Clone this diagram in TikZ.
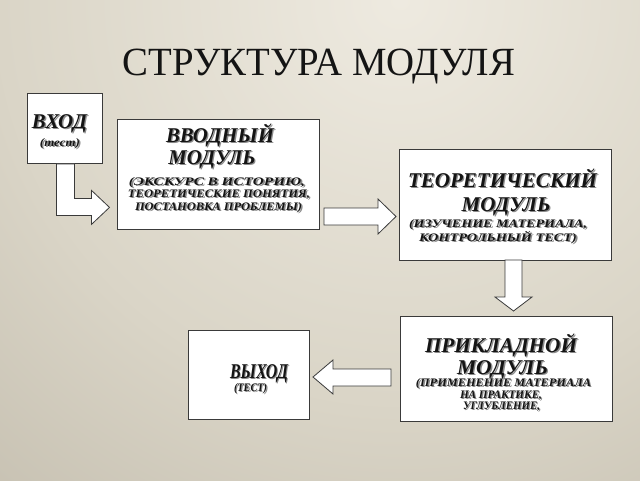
\documentclass[tikz,border=0pt]{standalone}
\usepackage{fontspec}
\setmainfont{Liberation Serif}
\usepackage{graphicx}
\definecolor{bgA}{HTML}{EEEAE0}
\definecolor{bgB}{HTML}{DAD5C7}
\definecolor{bgC}{HTML}{C6C0B1}
\definecolor{bgD}{HTML}{B0AA9A}
\definecolor{bgE}{HTML}{9F9989}
\definecolor{bgF}{HTML}{928C7C}
\definecolor{boxborder}{HTML}{3A3A3A}
\definecolor{txtc}{HTML}{141414}
\definecolor{shadowc}{HTML}{8A8A8A}
\pgfdeclareradialshading{bgshade}{\pgfpoint{0bp}{0bp}}{color(0bp)=(bgA); color(14.3bp)=(bgB); color(23.6bp)=(bgC); color(32.1bp)=(bgD); color(40bp)=(bgE); color(46.4bp)=(bgF); color(50bp)=(bgF)}
\newcommand\shd[1]{\leavevmode\rlap{\smash{\kern1.3pt\raisebox{-1.3pt}{\textcolor{shadowc}{#1}}}}#1}
\newcommand\fitline[2]{\resizebox{#1pt}{\height}{\shd{#2}}}
\tikzset{
  box/.style={draw=boxborder, line width=0.8pt, fill=white, inner sep=0pt},
  blockarrow/.style={draw=boxborder, line width=0.8pt, fill=white, line join=miter},
  lbl/.style={anchor=base, inner sep=0pt, text=txtc},
  hd/.style={lbl, font=\bfseries\itshape\fontsize{21}{23}\selectfont},
  sb/.style={lbl, font=\bfseries\itshape\fontsize{11.5}{12.5}\selectfont},
  ttl/.style={anchor=base, inner sep=0pt, text=txtc, font=\fontsize{40}{44}\selectfont}
}
\begin{document}
\begin{tikzpicture}[x=1pt,y=-1pt]
\useasboundingbox (0,0) rectangle (640,480);
\begin{scope}
\clip (0,0) rectangle (640,480);
\shade[shading=bgshade] (-300,-700) rectangle (1100,700);
\end{scope}
% title
\node[ttl] (title) at (319,75) {\resizebox{392pt}{\height}{СТРУКТУРА МОДУЛЯ}};
% boxes
\node[box, minimum width=75, minimum height=70] (in) at (65,128.5) {};
\node[box, minimum width=202, minimum height=110] (intro) at (218,174) {};
\node[box, minimum width=212, minimum height=111] (theory) at (505,204.5) {};
\node[box, minimum width=212, minimum height=105] (applied) at (506.5,368.5) {};
\node[box, minimum width=121, minimum height=89] (out) at (249,375) {};
% texts
\node[hd] (inA) at (59.5,128) {\fitline{55}{ВХОД}};
\node[sb] (inB) at (60,146) {\fitline{40}{(тест)}};
\node[hd] (introA) at (220,142) {\fitline{108}{ВВОДНЫЙ}};
\node[hd] (introB) at (212,164) {\fitline{87}{МОДУЛЬ}};
\node[sb] (introC) at (217,185) {\fitline{176}{(ЭКСКУРС В ИСТОРИЮ,}};
\node[sb] (introD) at (219,197.5) {\fitline{182}{ТЕОРЕТИЧЕСКИЕ ПОНЯТИЯ,}};
\node[sb] (introE) at (218.5,210) {\fitline{167}{ПОСТАНОВКА ПРОБЛЕМЫ)}};
\node[hd] (theoryA) at (502.5,187) {\fitline{189}{ТЕОРЕТИЧЕСКИЙ}};
\node[hd] (theoryB) at (506,211.5) {\fitline{89}{МОДУЛЬ}};
\node[sb] (theoryC) at (498,227) {\fitline{178}{(ИЗУЧЕНИЕ МАТЕРИАЛА,}};
\node[sb] (theoryD) at (498,241.5) {\fitline{158}{КОНТРОЛЬНЫЙ ТЕСТ)}};
\node[hd] (appliedA) at (501,352.5) {\fitline{152}{ПРИКЛАДНОЙ}};
\node[hd] (appliedB) at (502.5,374) {\fitline{91}{МОДУЛЬ}};
\node[sb] (appliedC) at (503.5,386.5) {\fitline{175}{(ПРИМЕНЕНИЕ МАТЕРИАЛА}};
\node[sb] (appliedD) at (501,398) {\fitline{82}{НА ПРАКТИКЕ,}};
\node[sb] (appliedE) at (501.5,409.5) {\fitline{77}{УГЛУБЛЕНИЕ,}};
\node[hd] (outA) at (259,378) {\fitline{58}{ВЫХОД}};
\node[sb] (outB) at (250.5,391.5) {\fitline{33}{(ТЕСТ)}};
% block arrows
\draw[blockarrow] ([xshift=-8.5pt]in.south) -- ++(0,51.5) -- ++(35,0) -- ++(0,9) -- ++(18,-17) -- ++(-18,-17) -- ++(0,8) -- ++(-17,0) -- ([xshift=9.5pt]in.south) -- cycle;
\draw[blockarrow] (324,208) -- (378,208) -- (378,199) -- (396,216.5) -- (378,234) -- (378,225) -- (324,225) -- cycle;
\draw[blockarrow] (505,260) -- (505,297) -- (495,297) -- (513.5,311) -- (532,297) -- (522,297) -- (522,260) -- cycle;
\draw[blockarrow] (391,369) -- (333,369) -- (333,360) -- (313,377) -- (333,394) -- (333,386) -- (391,386) -- cycle;
\end{tikzpicture}
\end{document}
